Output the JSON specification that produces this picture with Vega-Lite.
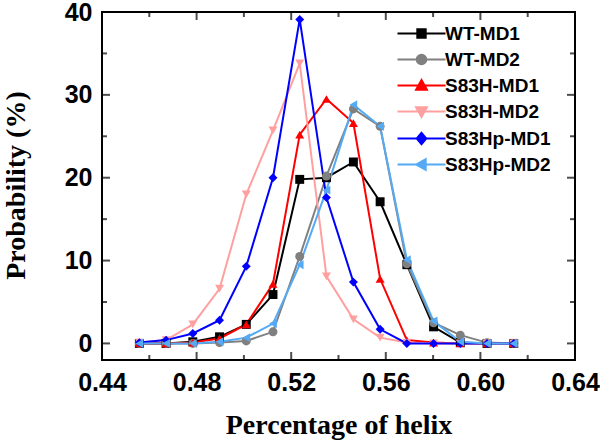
{
  "$schema": "https://vega.github.io/schema/vega-lite/v6.json",
  "width": 473,
  "height": 348,
  "autosize": {"type": "none"},
  "padding": {"left": 102, "top": 12, "right": 25, "bottom": 84},
  "background": "white",
  "config": {
    "view": {"stroke": null},
    "axis": {"grid": false, "labelColor": "black", "labelFont": "Liberation Sans", "labelFontWeight": "bold", "labelFontSize": 25, "titleColor": "black", "labelFlush": false, "labelOverlap": false}
  },
  "datasets": {
    "frame": [{"part": "frame"}],
    "xmaj": [{"v": 0.44}, {"v": 0.48}, {"v": 0.52}, {"v": 0.56}, {"v": 0.6}, {"v": 0.64}],
    "xmin": [{"v": 0.46}, {"v": 0.5}, {"v": 0.54}, {"v": 0.58}, {"v": 0.62}],
    "ymaj": [{"v": 0}, {"v": 10}, {"v": 20}, {"v": 30}, {"v": 40}],
    "ymin": [{"v": 5}, {"v": 15}, {"v": 25}, {"v": 35}],
    "series": [
    {"s":"WT-MD1","x":0.4558,"y":0},{"s":"WT-MD1","x":0.4671,"y":0},{"s":"WT-MD1","x":0.4784,"y":0.2},{"s":"WT-MD1","x":0.4897,"y":0.8},{"s":"WT-MD1","x":0.501,"y":2.3},{"s":"WT-MD1","x":0.5123,"y":5.9},{"s":"WT-MD1","x":0.5236,"y":19.8},{"s":"WT-MD1","x":0.5349,"y":20.0},{"s":"WT-MD1","x":0.5463,"y":21.9},{"s":"WT-MD1","x":0.5576,"y":17.1},{"s":"WT-MD1","x":0.5689,"y":9.5},{"s":"WT-MD1","x":0.5802,"y":2.0},{"s":"WT-MD1","x":0.5915,"y":0.1},{"s":"WT-MD1","x":0.6028,"y":0},{"s":"WT-MD1","x":0.6141,"y":0},
    {"s":"WT-MD2","x":0.4558,"y":0},{"s":"WT-MD2","x":0.4671,"y":0},{"s":"WT-MD2","x":0.4784,"y":0},{"s":"WT-MD2","x":0.4897,"y":0.1},{"s":"WT-MD2","x":0.501,"y":0.3},{"s":"WT-MD2","x":0.5123,"y":1.4},{"s":"WT-MD2","x":0.5236,"y":10.5},{"s":"WT-MD2","x":0.5349,"y":20.2},{"s":"WT-MD2","x":0.5463,"y":28.3},{"s":"WT-MD2","x":0.5576,"y":26.2},{"s":"WT-MD2","x":0.5689,"y":9.6},{"s":"WT-MD2","x":0.5802,"y":2.5},{"s":"WT-MD2","x":0.5915,"y":1.0},{"s":"WT-MD2","x":0.6028,"y":0.1},{"s":"WT-MD2","x":0.6141,"y":0},
    {"s":"S83H-MD1","x":0.4558,"y":0},{"s":"S83H-MD1","x":0.4671,"y":0},{"s":"S83H-MD1","x":0.4784,"y":0.1},{"s":"S83H-MD1","x":0.4897,"y":0.6},{"s":"S83H-MD1","x":0.501,"y":2.3},{"s":"S83H-MD1","x":0.5123,"y":7.2},{"s":"S83H-MD1","x":0.5236,"y":25.2},{"s":"S83H-MD1","x":0.5349,"y":29.5},{"s":"S83H-MD1","x":0.5463,"y":26.6},{"s":"S83H-MD1","x":0.5576,"y":7.8},{"s":"S83H-MD1","x":0.5689,"y":0.4},{"s":"S83H-MD1","x":0.5802,"y":0.1},{"s":"S83H-MD1","x":0.5915,"y":0},{"s":"S83H-MD1","x":0.6028,"y":0},{"s":"S83H-MD1","x":0.6141,"y":0},
    {"s":"S83H-MD2","x":0.4558,"y":0.1},{"s":"S83H-MD2","x":0.4671,"y":0.4},{"s":"S83H-MD2","x":0.4784,"y":2.3},{"s":"S83H-MD2","x":0.4897,"y":6.6},{"s":"S83H-MD2","x":0.501,"y":18.0},{"s":"S83H-MD2","x":0.5123,"y":25.7},{"s":"S83H-MD2","x":0.5236,"y":33.8},{"s":"S83H-MD2","x":0.5349,"y":8.1},{"s":"S83H-MD2","x":0.5463,"y":2.9},{"s":"S83H-MD2","x":0.5576,"y":0.7},{"s":"S83H-MD2","x":0.5689,"y":0.1},{"s":"S83H-MD2","x":0.5802,"y":0},{"s":"S83H-MD2","x":0.5915,"y":0},{"s":"S83H-MD2","x":0.6028,"y":0},{"s":"S83H-MD2","x":0.6141,"y":0},
    {"s":"S83Hp-MD1","x":0.4558,"y":0.1},{"s":"S83Hp-MD1","x":0.4671,"y":0.4},{"s":"S83Hp-MD1","x":0.4784,"y":1.2},{"s":"S83Hp-MD1","x":0.4897,"y":2.8},{"s":"S83Hp-MD1","x":0.501,"y":9.3},{"s":"S83Hp-MD1","x":0.5123,"y":20.0},{"s":"S83Hp-MD1","x":0.5236,"y":39.1},{"s":"S83Hp-MD1","x":0.5349,"y":17.6},{"s":"S83Hp-MD1","x":0.5463,"y":7.4},{"s":"S83Hp-MD1","x":0.5576,"y":1.7},{"s":"S83Hp-MD1","x":0.5689,"y":0},{"s":"S83Hp-MD1","x":0.5802,"y":0},{"s":"S83Hp-MD1","x":0.5915,"y":0},{"s":"S83Hp-MD1","x":0.6028,"y":0},{"s":"S83Hp-MD1","x":0.6141,"y":0},
    {"s":"S83Hp-MD2","x":0.4558,"y":0},{"s":"S83Hp-MD2","x":0.4671,"y":0},{"s":"S83Hp-MD2","x":0.4784,"y":0},{"s":"S83Hp-MD2","x":0.4897,"y":0.2},{"s":"S83Hp-MD2","x":0.501,"y":0.7},{"s":"S83Hp-MD2","x":0.5123,"y":2.4},{"s":"S83Hp-MD2","x":0.5236,"y":9.5},{"s":"S83Hp-MD2","x":0.5349,"y":18.5},{"s":"S83Hp-MD2","x":0.5463,"y":28.8},{"s":"S83Hp-MD2","x":0.5576,"y":26.2},{"s":"S83Hp-MD2","x":0.5689,"y":10.1},{"s":"S83Hp-MD2","x":0.5802,"y":2.7},{"s":"S83Hp-MD2","x":0.5915,"y":0.2},{"s":"S83Hp-MD2","x":0.6028,"y":0},{"s":"S83Hp-MD2","x":0.6141,"y":0}
    ]
  },
  "resolve": {"axis": {"x": "independent", "y": "independent"}, "scale": {"shape": "independent", "color": "independent"}, "legend": {"color": "independent", "shape": "independent", "fill": "independent", "stroke": "independent"}},
  "layer": [
    {
      "data": {"name": "series"},
      "mark": {"type": "line", "strokeWidth": 2},
      "encoding": {
        "x": {"field": "x", "type": "quantitative", "scale": {"domain": [0.44, 0.64], "nice": false, "zero": false},
          "axis": {"orient": "bottom", "values": [0.44, 0.48, 0.52, 0.56, 0.6, 0.64], "format": ".2f", "domain": false, "ticks": false, "labelPadding": 10, "title": "Percentage of helix", "titleFont": "Liberation Serif", "titleFontSize": 28, "titleFontWeight": "bold", "titleBaseline": "alphabetic", "titleY": 73}},
        "y": {"field": "y", "type": "quantitative", "scale": {"domain": [-2, 40], "nice": false, "zero": false},
          "axis": {"orient": "left", "values": [0, 10, 20, 30, 40], "domain": false, "ticks": false, "labelPadding": 10, "title": "Probability (%)", "titleFont": "Liberation Serif", "titleFontSize": 28, "titleFontWeight": "bold", "titleBaseline": "alphabetic", "titleX": -78, "titleY": 173}},
        "color": {"field": "s", "type": "nominal", "legend": null,
          "scale": {"domain": ["WT-MD1", "WT-MD2", "S83H-MD1", "S83H-MD2", "S83Hp-MD1", "S83Hp-MD2"], "range": ["#000000", "#808080", "#ff0000", "#ffa0a0", "#0000ff", "#55aaf5"]}},
        "order": {"field": "x", "type": "quantitative"}
      }
    },
    {
      "data": {"name": "frame"},
      "mark": {"type": "rect", "filled": false, "strokeWidth": 2},
      "encoding": {
        "x": {"datum": 0.44, "type": "quantitative", "axis": null},
        "x2": {"datum": 0.64},
        "y": {"datum": -2, "type": "quantitative", "axis": null},
        "y2": {"datum": 40},
        "color": {"field": "part", "type": "nominal", "legend": null, "scale": {"domain": ["frame"], "range": ["#000000"]}}
      }
    },
    {
      "data": {"name": "xmaj"},
      "mark": {"type": "tick", "orient": "vertical", "size": 8, "thickness": 2, "yOffset": -4},
      "encoding": {"x": {"field": "v", "type": "quantitative", "axis": null}, "y": {"datum": -2, "type": "quantitative", "axis": null},
        "color": {"datum": "tick", "type": "nominal", "legend": null, "scale": {"domain": ["tick"], "range": ["#000000"]}}}
    },
    {
      "data": {"name": "xmaj"},
      "mark": {"type": "tick", "orient": "vertical", "size": 8, "thickness": 2, "yOffset": 4},
      "encoding": {"x": {"field": "v", "type": "quantitative", "axis": null}, "y": {"datum": 40, "type": "quantitative", "axis": null},
        "color": {"datum": "tick", "type": "nominal", "legend": null, "scale": {"domain": ["tick"], "range": ["#000000"]}}}
    },
    {
      "data": {"name": "xmin"},
      "mark": {"type": "tick", "orient": "vertical", "size": 5, "thickness": 2, "yOffset": -2.5},
      "encoding": {"x": {"field": "v", "type": "quantitative", "axis": null}, "y": {"datum": -2, "type": "quantitative", "axis": null},
        "color": {"datum": "tick", "type": "nominal", "legend": null, "scale": {"domain": ["tick"], "range": ["#000000"]}}}
    },
    {
      "data": {"name": "xmin"},
      "mark": {"type": "tick", "orient": "vertical", "size": 5, "thickness": 2, "yOffset": 2.5},
      "encoding": {"x": {"field": "v", "type": "quantitative", "axis": null}, "y": {"datum": 40, "type": "quantitative", "axis": null},
        "color": {"datum": "tick", "type": "nominal", "legend": null, "scale": {"domain": ["tick"], "range": ["#000000"]}}}
    },
    {
      "data": {"name": "ymaj"},
      "mark": {"type": "tick", "orient": "horizontal", "size": 8, "thickness": 2, "xOffset": 4},
      "encoding": {"y": {"field": "v", "type": "quantitative", "axis": null}, "x": {"datum": 0.44, "type": "quantitative", "axis": null},
        "color": {"datum": "tick", "type": "nominal", "legend": null, "scale": {"domain": ["tick"], "range": ["#000000"]}}}
    },
    {
      "data": {"name": "ymaj"},
      "mark": {"type": "tick", "orient": "horizontal", "size": 8, "thickness": 2, "xOffset": -4},
      "encoding": {"y": {"field": "v", "type": "quantitative", "axis": null}, "x": {"datum": 0.64, "type": "quantitative", "axis": null},
        "color": {"datum": "tick", "type": "nominal", "legend": null, "scale": {"domain": ["tick"], "range": ["#000000"]}}}
    },
    {
      "data": {"name": "ymin"},
      "mark": {"type": "tick", "orient": "horizontal", "size": 5, "thickness": 2, "xOffset": 2.5},
      "encoding": {"y": {"field": "v", "type": "quantitative", "axis": null}, "x": {"datum": 0.44, "type": "quantitative", "axis": null},
        "color": {"datum": "tick", "type": "nominal", "legend": null, "scale": {"domain": ["tick"], "range": ["#000000"]}}}
    },
    {
      "data": {"name": "ymin"},
      "mark": {"type": "tick", "orient": "horizontal", "size": 5, "thickness": 2, "xOffset": -2.5},
      "encoding": {"y": {"field": "v", "type": "quantitative", "axis": null}, "x": {"datum": 0.64, "type": "quantitative", "axis": null},
        "color": {"datum": "tick", "type": "nominal", "legend": null, "scale": {"domain": ["tick"], "range": ["#000000"]}}}
    },
    {
      "data": {"name": "series"},
      "mark": {"type": "point", "filled": true, "size": 80, "opacity": 1},
      "encoding": {
        "x": {"field": "x", "type": "quantitative", "axis": null},
        "y": {"field": "y", "type": "quantitative", "axis": null},
        "color": {"field": "s", "type": "nominal", "legend": null,
          "scale": {"domain": ["WT-MD1", "WT-MD2", "S83H-MD1", "S83H-MD2", "S83Hp-MD1", "S83Hp-MD2"], "range": ["#000000", "#808080", "#ff0000", "#ffa0a0", "#0000ff", "#55aaf5"]}},
        "shape": {"field": "s", "type": "nominal", "legend": null,
          "scale": {"domain": ["WT-MD1", "WT-MD2", "S83H-MD1", "S83H-MD2", "S83Hp-MD1", "S83Hp-MD2"], "range": ["square", "circle", "triangle-up", "triangle-down", "diamond", "triangle-left"]}}
      }
    },
    {
      "data": {"name": "series"},
      "mark": {"type": "point", "filled": true, "opacity": 0, "strokeWidth": 2},
      "encoding": {
        "x": {"field": "x", "type": "quantitative", "axis": null},
        "y": {"field": "y", "type": "quantitative", "axis": null},
        "fill": {"field": "s", "type": "nominal",
          "scale": {"domain": ["WT-MD1", "WT-MD2", "S83H-MD1", "S83H-MD2", "S83Hp-MD1", "S83Hp-MD2"], "range": ["#000000", "#808080", "#ff0000", "#ffa0a0", "#0000ff", "#55aaf5"]},
          "legend": {"orient": "none", "legendX": 310, "legendY": 12, "title": null}},
        "stroke": {"field": "s", "type": "nominal",
          "scale": {"domain": ["WT-MD1", "WT-MD2", "S83H-MD1", "S83H-MD2", "S83Hp-MD1", "S83Hp-MD2"], "range": ["#000000", "#808080", "#ff0000", "#ffa0a0", "#0000ff", "#55aaf5"]},
          "legend": {"orient": "none", "legendX": 310, "legendY": 12, "title": null}},
        "shape": {"field": "s", "type": "nominal",
          "scale": {"domain": ["WT-MD1", "WT-MD2", "S83H-MD1", "S83H-MD2", "S83Hp-MD1", "S83Hp-MD2"],
            "range": [
              "M-4,0H4M-0.7,-0.7H0.7V0.7H-0.7Z",
              "M-4,0H4M-0.8,0A0.8,0.8 0 1,0 0.8,0A0.8,0.8 0 1,0 -0.8,0Z",
              "M-4,0H4M0,-0.9L0.9,0.7L-0.9,0.7Z",
              "M-4,0H4M0,0.9L0.9,-0.7L-0.9,-0.7Z",
              "M-4,0H4M0,-0.95L0.8,0L0,0.95L-0.8,0Z",
              "M-4,0H4M-0.9,0L0.7,-0.9L0.7,0.9Z"
            ]},
          "legend": {"orient": "none", "legendX": 310, "legendY": 12, "title": null, "symbolSize": 144, "symbolStrokeWidth": 2, "symbolOpacity": 1,
            "labelFont": "Liberation Sans", "labelFontWeight": "bold", "labelFontSize": 19, "labelColor": "black", "labelOffset": 14, "rowPadding": 6, "padding": 0}
        }
      }
    }
  ]
}
